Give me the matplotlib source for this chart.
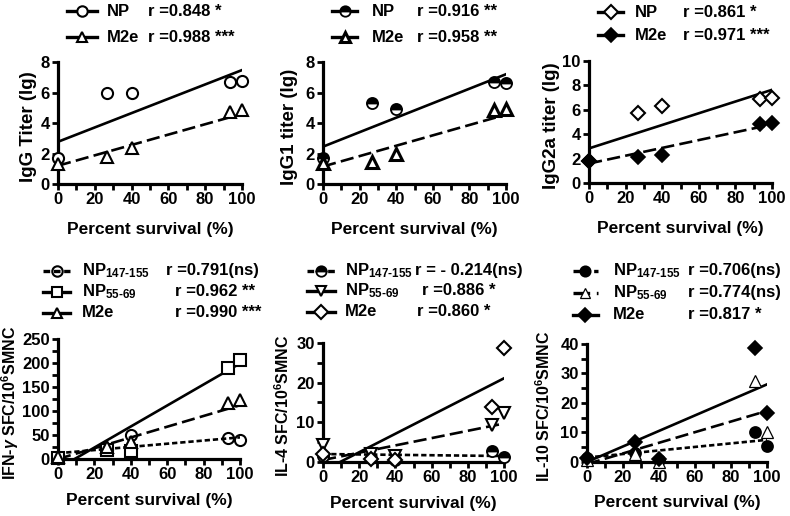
import matplotlib
matplotlib.use("Agg")
import matplotlib.pyplot as plt
import numpy as np
from matplotlib.ticker import MultipleLocator

plt.rcParams["font.family"] = ["Liberation Sans", "DejaVu Sans"]
plt.rcParams["font.weight"] = "bold"
plt.rcParams["axes.labelweight"] = "bold"
plt.rcParams["mathtext.fontset"] = "custom"
plt.rcParams["mathtext.rm"] = "Liberation Sans:bold"
plt.rcParams["mathtext.it"] = "Liberation Sans:bold:italic"
plt.rcParams["mathtext.bf"] = "Liberation Sans:bold"

# percent survival of each group
survival = [0, 26.7, 40, 93.3, 100]

# top row: antibody titers (lg)
igg_np = [1.7, 5.95, 6.0, 6.7, 6.75]
igg_m2e = [1.3, 1.75, 2.35, 4.7, 4.85]
igg1_np = [1.7, 5.3, 4.92, 6.7, 6.6]
igg1_m2e = [1.4, 1.46, 1.97, 4.85, 4.9]
igg2a_np = [1.8, 5.7, 6.34, 6.9, 6.95]
igg2a_m2e = [1.8, 2.1, 2.3, 4.8, 4.9]

# bottom row: SFC / 10^6 SMNC
ifn_np147 = [3, 20, 50, 43, 40]
ifn_np55 = [2, 18, 17, 190, 206]
ifn_m2e = [5, 25, 35, 117, 122]
il4_np147 = [1.5, 1.0, 0.5, 2.8, 1.2]
il4_np55 = [4.3, 2.0, 1.5, 9.3, 12.3]
il4_m2e = [2.0, 0.7, 0.5, 13.9, 28.8]
il10_np147 = [1.5, 3.0, 0.5, 10.0, 5.5]
il10_np55 = [0.5, 2.6, 0.0, 27.5, 10.0]
il10_m2e = [1.5, 6.7, 1.0, 38.5, 16.5]

# regression lines (intercept, slope)
fits = {
    "igg": [(2.77, 0.047), (1.2, 0.034)],
    "igg1": [(2.45, 0.0475), (1.15, 0.034)],
    "igg2a": [(2.84, 0.048), (1.6, 0.032)],
    "ifn": [(12, 0.33), (-20, 2.19), (0, 1.12)],
    "il4": [(2.0, -0.005), (0.5, 0.092), (-2.2, 0.233)],
    "il10": [(1.5, 0.06), (-0.7, 0.18), (0, 0.263)],
}

r_igg = ["r =0.848 *", "r =0.988 ***"]
r_igg1 = ["r =0.916 **", "r =0.958 **"]
r_igg2a = ["r =0.861 *", "r =0.971 ***"]
r_ifn = ["r =0.791(ns)", "r =0.962 **", "r =0.990 ***"]
r_il4 = ["r = - 0.214(ns)", "r =0.886 *", "r =0.860 *"]
r_il10 = ["r =0.706(ns)", "r =0.774(ns)", "r =0.817 *"]

NP147 = r"NP$_{147\text{-}155}$"
NP55 = r"NP$_{55\text{-}69}$"

SOLID = "-"
DASH = (0, (5, 2))
DOT = (0, (2, 1.1))

# marker styles
OPEN = dict(mfc="white", mew=1.5)
NOFACE = dict(mfc="none", mew=1.5)
FILLED = dict(mfc="black", mew=1.2)
HALF = dict(mfc="black", mfcalt="white", fillstyle="top", mew=1.3)
HEAVY = dict(mfc="white", mew=2.2)
THIN = dict(mfc="white", mew=0.9)

panels = [
    dict(key="igg", rect=[0.0734, 0.6434, 0.2329, 0.2364], ylim=(0, 8), ymaj=2, ymin=None,
         ylabel="IgG Titer (lg)", ylx=-0.114, yfs=13.5,
         series=[("NP", igg_np, "o", OPEN, SOLID, SOLID), ("M2e", igg_m2e, "^", OPEN, DASH, SOLID)],
         r=r_igg, rows=[1.418, 1.205], samp=(0.049, 0.212), namex=0.266, rx=[0.489, 0.489]),
    dict(key="igg1", rect=[0.4089, 0.6434, 0.2316, 0.2364], ylim=(0, 8), ymaj=2, ymin=None,
         ylabel="IgG1 titer (lg)", ylx=-0.137, yfs=13.5,
         series=[("NP", igg1_np, "o", HALF, SOLID, SOLID), ("M2e", igg1_m2e, "^", HEAVY, DASH, SOLID)],
         r=r_igg1, rows=[1.418, 1.205], samp=(0.05, 0.186), namex=0.268, rx=[0.514, 0.514]),
    dict(key="igg2a", rect=[0.7456, 0.6453, 0.2316, 0.2364], ylim=(0, 10), ymaj=2, ymin=None,
         ylabel="IgG2a titer (lg)", ylx=-0.158, yfs=13.5,
         series=[("NP", igg2a_np, "D", OPEN, SOLID, SOLID), ("M2e", igg2a_m2e, "D", FILLED, DASH, SOLID)],
         r=r_igg2a, rows=[1.402, 1.213], samp=(0.05, 0.186), namex=0.25, rx=[0.515, 0.515]),
    dict(key="ifn", rect=[0.0734, 0.1105, 0.2304, 0.2326], ylim=(0, 250), ymaj=50, ymin=25,
         ylabel=r"IFN-$\gamma$ SFC/10$^6$SMNC", ylx=-0.205, yfs=11.5,
         series=[(NP147, ifn_np147, "o", NOFACE, DOT, DOT), (NP55, ifn_np55, "s", OPEN, SOLID, SOLID),
                 ("M2e", ifn_m2e, "^", OPEN, DASH, SOLID)],
         r=r_ifn, rows=[1.567, 1.392, 1.217], samp=(-0.082, 0.066), namex=0.132, rx=[0.593, 0.643, 0.643]),
    dict(key="il4", rect=[0.4089, 0.1047, 0.2291, 0.2306], ylim=(0, 30), ymaj=10, ymin=5,
         ylabel=r"IL-4 SFC/10$^6$SMNC", ylx=-0.171, yfs=11.5,
         series=[(NP147, il4_np147, "o", HALF, DOT, DOT), (NP55, il4_np55, "v", OPEN, DASH, SOLID),
                 ("M2e", il4_m2e, "D", OPEN, SOLID, SOLID)],
         r=r_il4, rows=[1.605, 1.437, 1.261], samp=(-0.088, 0.066), namex=0.122, rx=[0.51, 0.547, 0.52]),
    dict(key="il10", rect=[0.7430, 0.1047, 0.2278, 0.2287], ylim=(0, 40), ymaj=10, ymin=5,
         ylabel=r"IL-10 SFC/10$^6$SMNC", ylx=-0.189, yfs=11.5,
         series=[(NP147, il10_np147, "o", FILLED, DOT, DOT), (NP55, il10_np55, "^", THIN, DASH, DASH),
                 ("M2e", il10_m2e, "D", FILLED, SOLID, SOLID)],
         r=r_il10, rows=[1.62, 1.432, 1.246], samp=(-0.078, 0.061), namex=0.144, rx=[0.561, 0.561, 0.561]),
]

fig = plt.figure(figsize=(7.9, 5.16), dpi=100)
xfit = np.linspace(0, 100, 200)
xticks = np.arange(0, 101, 20)

for p in panels:
    ax = fig.add_axes(p["rect"])
    for (name, vals, mk, style, ls, lls), (a, b) in zip(p["series"], fits[p["key"]]):
        ms = 7.5 if mk == "D" else 8
        ax.plot(xfit, a + b * xfit, color="black", lw=1.9, ls=ls)
        ax.plot(survival, vals, ls="none", marker=mk, ms=ms, mec="black", clip_on=False, zorder=3, **style)

    # hand-made legend above the axes
    for (name, vals, mk, style, ls, lls), ry, rx, rtxt in zip(p["series"], p["rows"], p["rx"], p["r"]):
        x0, x1 = p["samp"]
        ax.plot([x0, x1], [ry, ry], transform=ax.transAxes, color="black", lw=2.4, ls=lls, clip_on=False)
        ax.plot([(x0 + x1) / 2], [ry], transform=ax.transAxes, marker=mk, ms=7.5, mec="black",
                ls="none", clip_on=False, **style)
        ax.text(p["namex"], ry, name, transform=ax.transAxes, fontsize=12, fontweight="bold",
                va="center", ha="left")
        ax.text(rx, ry, rtxt, transform=ax.transAxes, fontsize=12, fontweight="bold",
                va="center", ha="left")

    ax.set_xlim(0, 100)
    ax.set_ylim(*p["ylim"])
    yticks = np.arange(0, p["ylim"][1] + 1e-9, p["ymaj"])
    ax.set_xticks(xticks, [f"{v:g}" for v in xticks], fontweight="bold")
    ax.set_yticks(yticks, [f"{v:g}" for v in yticks], fontweight="bold")
    ax.xaxis.set_minor_locator(MultipleLocator(10))
    if p["ymin"]:
        ax.yaxis.set_minor_locator(MultipleLocator(p["ymin"]))
    for s in ["top", "right"]:
        ax.spines[s].set_visible(False)
    for s in ["left", "bottom"]:
        ax.spines[s].set_linewidth(2.3)
    ax.tick_params(which="major", length=4, width=2, labelsize=12, pad=2)
    ax.tick_params(which="minor", length=4, width=2)
    ax.set_xlabel("Percent survival (%)", fontsize=12.5, fontweight="bold")
    ax.xaxis.set_label_coords(0.5, -0.31 if p["ymin"] is None else -0.283)
    ax.set_ylabel(p["ylabel"], fontsize=p["yfs"], fontweight="bold")
    ax.yaxis.set_label_coords(p["ylx"], 0.47)

fig.savefig("out.png", dpi=100)
